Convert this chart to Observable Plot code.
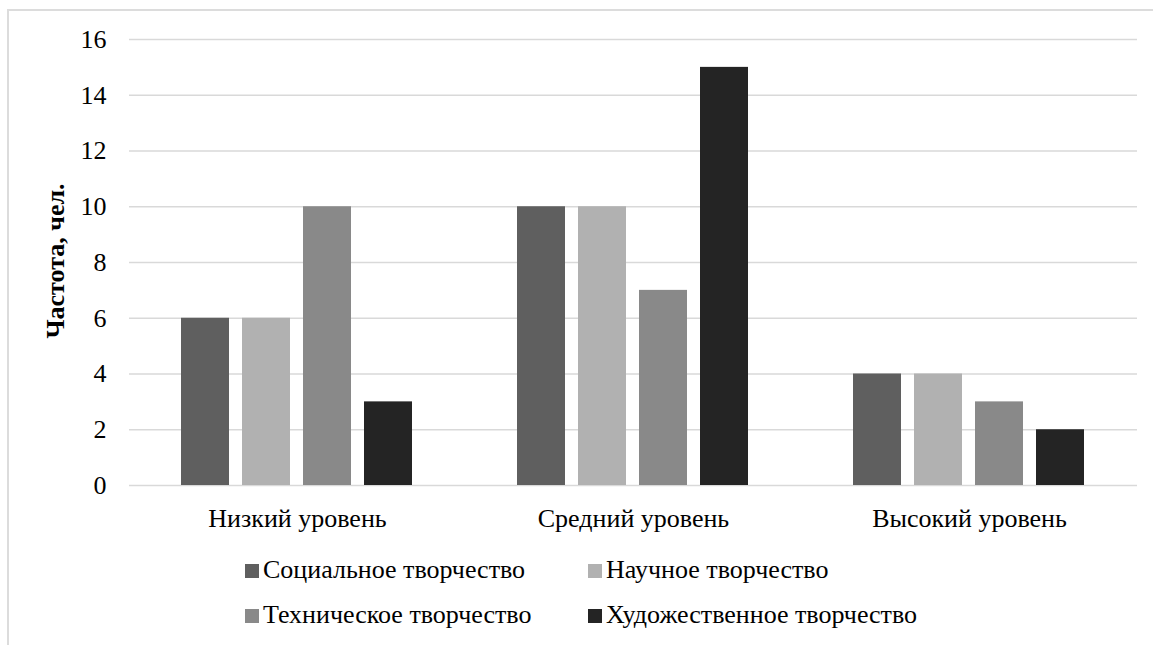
<!DOCTYPE html>
<html>
<head>
<meta charset="utf-8">
<script src="https://cdn.jsdelivr.net/npm/d3@7"></script>
<script src="https://cdn.jsdelivr.net/npm/@observablehq/plot@0.6"></script>
<style>
  html, body { margin: 0; padding: 0; background: #fff; }
  body { width: 1153px; height: 645px; position: relative; overflow: hidden; font-family: 'Liberation Serif'; }
  #frame { position: absolute; left: 7px; top: 9px; width: 1300px; height: 800px; border-left: 2px solid #dcdcdc; border-top: 2px solid #dcdcdc; }
  #chart { position: absolute; left: 0; top: 0; }
  #chart svg, #chart svg text { font-family: 'Liberation Serif' !important; }
  .legend { position: absolute; left: 0; top: 0; font-size: 26px; color: #000; font-family: 'Liberation Serif'; }
  .item { position: absolute; display: flex; align-items: center; white-space: nowrap; line-height: 1; }
  .sw { width: 14px; height: 14px; margin-right: 4px; display: inline-block; position: relative; top: 1px; }
</style>
</head>
<body>
<div id="frame"></div>
<div id="chart"></div>
<div class="legend" id="legend"></div>
<script>
const levels = ["Низкий уровень", "Средний уровень", "Высокий уровень"];
const series = ["Социальное творчество", "Научное творчество", "Техническое творчество", "Художественное творчество"];
const social = [6, 10, 4];
const science = [6, 10, 4];
const technical = [10, 7, 3];
const artistic = [3, 15, 2];
const yTicks = [0, 2, 4, 6, 8, 10, 12, 14, 16];
const colors = ["#5f5f5f", "#b1b1b1", "#898989", "#242424"];
const yLabel = "Частота, чел.";

const valuesBySeries = [social, science, technical, artistic];
const data = [];
levels.forEach((lv, i) => {
  series.forEach((s, j) => data.push({level: lv, series: s, value: valuesBySeries[j][i]}));
});

const FONT = "Liberation Serif";

const chart = Plot.plot({
  width: 1153,
  height: 545,
  marginLeft: 129,
  marginRight: 16,
  marginTop: 39,
  marginBottom: 60,
  style: {fontFamily: FONT, fontSize: "26px", color: "#000", background: "transparent"},
  fx: {domain: levels, padding: 0, label: null, axis: null},
  x: {domain: series, axis: null, paddingInner: 0.213, paddingOuter: 0.86},
  y: {domain: [0, 16], axis: null},
  color: {domain: series, range: colors},
  marks: [
    Plot.ruleY(yTicks, {stroke: "#d9d9d9", strokeWidth: 1.5}),
    Plot.barY(data, {fx: "level", x: "series", y: "value", fill: "series"}),
    Plot.axisFx({anchor: "bottom", domain: levels, tickSize: 0, tickPadding: 23, label: null, fontSize: 26}),
    Plot.axisY({ticks: yTicks, tickSize: 0, tickPadding: 23, label: null, fontSize: 26, facet: "exclude"})
  ]
});
document.getElementById("chart").appendChild(chart);

// y-axis title
const svg = d3.select(chart);
svg.append("text")
  .attr("transform", `translate(64, 261) rotate(-90)`)
  .attr("text-anchor", "middle")
  .attr("font-weight", "bold")
  .attr("font-size", 26)
  .attr("fill", "#000")
  .attr("font-family", FONT)
  .text(yLabel);

// legend
const legendPos = [
  {x: 245, y: 570}, {x: 588, y: 570},
  {x: 245, y: 615}, {x: 588, y: 615}
];
const leg = d3.select("#legend");
series.forEach((s, i) => {
  const it = leg.append("div").attr("class", "item")
    .style("left", legendPos[i].x + "px")
    .style("top", (legendPos[i].y - 13) + "px")
    .style("height", "26px");
  it.append("span").attr("class", "sw").style("background", colors[i]);
  it.append("span").text(s);
});
</script>
</body>
</html>
